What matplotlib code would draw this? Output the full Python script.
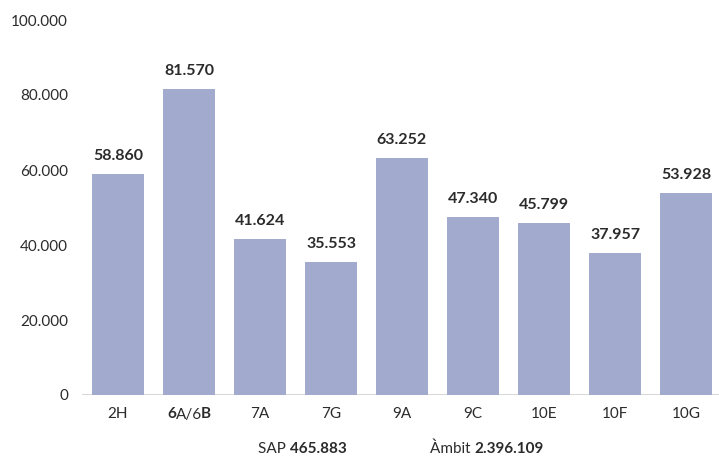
import matplotlib.pyplot as plt
from matplotlib.transforms import offset_copy

plt.rcParams["font.family"] = ["Lato", "DejaVu Sans"]

categories = ["2H", "6A/6B", "7A", "7G", "9A", "9C", "10E", "10F", "10G"]
values = [58860, 81570, 41624, 35553, 63252, 47340, 45799, 37957, 53928]
yticks = [0, 20000, 40000, 60000, 80000, 100000]
sap_total = "465.883"
ambit_total = "2.396.109"

bar_color = "#a2abce"
text_color = "#2b2b2b"


def fmt(v):
    return "{:,}".format(v).replace(",", ".")


fig = plt.figure(figsize=(7.19, 4.70), dpi=100)
ax = fig.add_axes([82 / 719, 1 - 395 / 470, 637 / 719, 375 / 470])

x = list(range(len(categories)))
ax.bar(x, values, width=0.732, color=bar_color, zorder=2)
ax.axhline(0, color="#333333", linewidth=1.0, zorder=1)

# value labels above bars
for xi, v in zip(x, values):
    ax.annotate(fmt(v), (xi, v), xytext=(0, 8), textcoords="offset points",
                ha="center", va="bottom", fontsize=11.5, fontweight="bold",
                color=text_color)

ax.set_xlim(-0.507, 8.465)
ax.set_ylim(0, 100000)
ax.set_yticks(yticks)
ax.set_yticklabels([fmt(t) for t in yticks], fontsize=11, color=text_color)
ax.tick_params(axis="y", length=0, pad=10)

ax.set_xticks(x)
ax.set_xticklabels([c if c != "6A/6B" else "" for c in categories],
                   fontsize=11, color=text_color)
ax.tick_params(axis="x", length=0, pad=9)

for s in ax.spines.values():
    s.set_visible(False)


def mixed_text(parts, xy, transform, ha="left", va="baseline", size=11):
    # parts: (text, weight, extra px after the piece)
    renderer = fig.canvas.get_renderer()
    texts, widths = [], []
    for t, w, k in parts:
        tx = fig.text(0, 0, t, fontsize=size, fontweight=w, color=text_color,
                      transform=transform, va=va)
        texts.append(tx)
        widths.append(tx.get_window_extent(renderer).width + k)
    total = sum(widths)
    start = {"left": 0, "center": -total / 2}[ha]
    for tx, wd in zip(texts, widths):
        tx.set_position(xy)
        tx.set_transform(offset_copy(transform, fig=fig, x=start * 72 / fig.dpi,
                                     y=0, units="points"))
        start += wd


# 6A/6B with bold 6 and B, aligned with the other tick labels
ref = ax.get_xticklabels()[0]
fig.canvas.draw()
ref_bb = ref.get_window_extent()
label_y = ref_bb.y1 / fig.bbox.height
mixed_text([("6", "bold", 0), ("A/6", "normal", -2), ("B", "bold", 0)],
           (ax.transData.transform((1, 0))[0] / fig.bbox.width, label_y),
           fig.transFigure, ha="center", va="top")

# footer totals
mixed_text([("SAP ", "normal", 0), (sap_total, "bold", 0)],
           (258 / 719, 1 - 453 / 470), fig.transFigure)
mixed_text([("Àmbit ", "normal", 0), (ambit_total, "bold", 0)],
           (430 / 719, 1 - 453 / 470), fig.transFigure)

fig.savefig("out.png", dpi=100)
